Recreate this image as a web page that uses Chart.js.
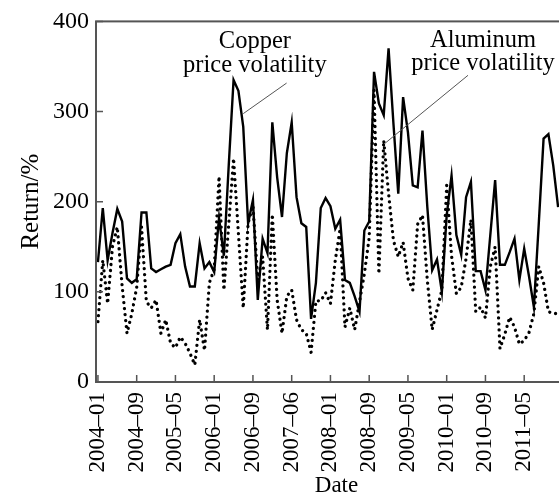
<!DOCTYPE html>
<html>
<head>
<meta charset="utf-8">
<script src="https://cdn.jsdelivr.net/npm/chart.js@4.4.1/dist/chart.umd.min.js"></script>
<style>
html,body{margin:0;padding:0;background:#fff;overflow:hidden;}
#wrap{width:580px;height:497px;}
</style>
</head>
<body>
<div id="wrap"><canvas id="volChart" width="580" height="497"></canvas></div>
<script>
// monthly volatility, 2004-01 onwards (index = month number)
const copper=[133,193,135,165,192,178,115,110,114,188,
  188,126,122,125,128,130,154,164,128,106,
  106,154,126,133,122,182,140,240,335,323,
  283,176,202,91,159,143,288,227,183,254,
  288,205,176,172,70,110,193,204,195,170,
  180,113,110,95,78,168,178,344,309,296,
  370,287,209,316,277,218,216,279,194,124,
  136,100,185,229,163,141,205,222,123,123,
  102,163,224,130,130,144,159,113,148,117,
  83,175,270,275,240,194];
const aluminum=[67,135,87,150,172,106,54,76,105,172,
  89,82,91,54,69,43,38,50,43,32,
  19,69,35,110,125,228,102,175,248,165,
  82,176,196,113,139,58,186,91,54,95,
  102,69,58,54,33,90,90,99,87,135,
  170,61,82,58,89,120,160,324,120,268,
  209,157,139,155,115,102,175,185,113,58,
  80,102,218,140,98,105,137,180,78,83,
  71,128,150,37,53,72,61,42,46,55,
  76,128,110,78,76,76];
const tickIndex=[0,8,16,24,32,40,48,56,64,72,80,88];
const tickLabels=['2004\u201301','2004\u201309','2005\u201305','2006\u201301','2006\u201309','2007\u201306',
  '2008\u201301','2008\u201309','2009\u201305','2010\u201301','2010\u201309','2011\u201305'];
const yTicks=[0,100,200,300,400];

// callouts, placed in data units
const notes=[
  {lines:['Copper','price volatility'],x:32.4,y:[370,344],from:[30.0,297.7],to:[38.95,331.6]},
  {lines:['Aluminum','price volatility'],x:79.5,y:[372,345.7],from:[59.2,264.5],to:[76.4,340.2]}
];

const serif='"Liberation Serif","Times New Roman",serif';

const framePlugin={
  id:'frame',
  afterDraw(chart){
    const {ctx,chartArea:a,scales:{x,y}}=chart;
    ctx.save();
    ctx.strokeStyle='#555';
    ctx.lineWidth=2;
    ctx.strokeRect(a.left,a.top,a.right-a.left,a.bottom-a.top);
    ctx.lineWidth=1.5;
    ctx.beginPath();
    x.ticks.forEach((t,i)=>{
      const px=x.getPixelForTick(i);
      ctx.moveTo(px,a.bottom);ctx.lineTo(px,a.bottom-7);
    });
    y.ticks.forEach((t,i)=>{
      const py=y.getPixelForTick(i);
      ctx.moveTo(a.left,py);ctx.lineTo(a.left+7,py);
    });
    ctx.stroke();
    ctx.fillStyle='#000';
    ctx.font='24.5px '+serif;
    ctx.textAlign='center';
    ctx.textBaseline='alphabetic';
    notes.forEach(n=>{
      n.lines.forEach((s,k)=>ctx.fillText(s,x.getPixelForValue(n.x),y.getPixelForValue(n.y[k])));
      ctx.beginPath();
      ctx.strokeStyle='#555';
      ctx.lineWidth=1;
      ctx.moveTo(x.getPixelForValue(n.from[0]),y.getPixelForValue(n.from[1]));
      ctx.lineTo(x.getPixelForValue(n.to[0]),y.getPixelForValue(n.to[1]));
      ctx.stroke();
    });
    ctx.restore();
  }
};

new Chart(document.getElementById('volChart'),{
  type:'line',
  data:{
    datasets:[{
      label:'Copper price volatility',
      data:copper.map((v,i)=>({x:i,y:v})),
      borderColor:'#000',
      borderWidth:2.4,
      pointRadius:0,
      tension:0
    },{
      label:'Aluminum price volatility',
      data:aluminum.map((v,i)=>({x:i,y:v})),
      borderColor:'#000',
      borderWidth:3.3,
      borderDash:[0.01,6],
      borderCapStyle:'round',
      pointRadius:0,
      tension:0
    }]
  },
  options:{
    responsive:false,
    animation:false,
    devicePixelRatio:1,
    layout:{padding:{left:0,right:3,top:21,bottom:0}},
    plugins:{legend:{display:false},tooltip:{enabled:false}},
    scales:{
      x:{
        type:'linear',
        min:-0.4,max:98.9,
        grid:{display:false,drawTicks:false},
        border:{display:false},
        afterBuildTicks:s=>{s.ticks=tickIndex.map(v=>({value:v}));},
        afterFit:s=>{s.height=115;},
        ticks:{
          autoSkip:false,minRotation:90,maxRotation:90,padding:10,color:'#000',
          font:{family:serif,size:23},
          callback:v=>tickLabels[tickIndex.indexOf(v)]
        },
        title:{display:true,text:'Date',color:'#000',font:{family:serif,size:23},padding:{top:0,bottom:-3}}
      },
      y:{
        min:0,max:400,
        grid:{display:false,drawTicks:false},
        border:{display:false},
        afterBuildTicks:s=>{s.ticks=yTicks.map(v=>({value:v}));},
        afterFit:s=>{s.width=96;},
        ticks:{padding:7,color:'#000',font:{family:serif,size:24}},
        title:{display:true,text:'Return/%',color:'#000',font:{family:serif,size:25},padding:{top:16,bottom:0}}
      }
    }
  },
  plugins:[framePlugin]
});
</script>
</body>
</html>
